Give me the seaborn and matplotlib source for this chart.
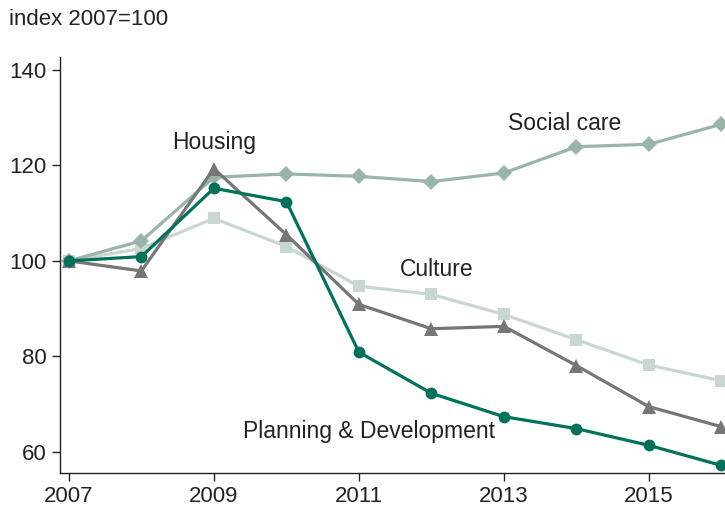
import matplotlib
matplotlib.use("Agg")
import matplotlib.pyplot as plt
import seaborn as sns
import pandas as pd

years = [2007, 2008, 2009, 2010, 2011, 2012, 2013, 2014, 2015, 2016]
social_care = [100, 104.2, 117.5, 118.2, 117.7, 116.6, 118.4, 123.9, 124.4, 128.6]
culture = [100, 102.6, 108.9, 103.0, 94.7, 93.0, 88.8, 83.5, 78.2, 74.9]
housing = [100, 97.9, 119.3, 105.5, 90.9, 85.8, 86.3, 78.1, 69.5, 65.3]
planning = [100, 100.9, 115.2, 112.4, 80.9, 72.3, 67.4, 64.9, 61.4, 57.2]

series_names = ["Culture", "Social care", "Housing", "Planning & Development"]
series_values = [culture, social_care, housing, planning]
colors = {"Culture": "#C9D7D0", "Social care": "#99B5A7",
          "Housing": "#767676", "Planning & Development": "#00715A"}
markers = {"Culture": "s", "Social care": "D", "Housing": "^",
           "Planning & Development": "o"}
msizes = {"Culture": 9, "Social care": 8, "Housing": 10, "Planning & Development": 8.5}

rows = []
for n, v in zip(series_names, series_values):
    for y, val in zip(years, v):
        rows.append({"year": y, "value": val, "series": n})
df = pd.DataFrame(rows)

sns.set_style("ticks")
plt.rcParams["font.family"] = ["Liberation Sans", "DejaVu Sans"]

fig = plt.figure(figsize=(7.25, 5.17), dpi=100)
ax = fig.add_axes([0.083, 0.085, 0.917, 0.805])

for n in series_names:
    sub = df[df["series"] == n]
    sns.lineplot(data=sub, x="year", y="value", ax=ax, color=colors[n],
                 marker=markers[n], markersize=msizes[n], markeredgewidth=0,
                 linewidth=2.3, clip_on=True)

ax.set_xlim(2006.88, 2016.05)
ax.set_ylim(55.6, 142.7)
ax.set_yticks([60, 80, 100, 120, 140])
ax.set_xticks([2007, 2009, 2011, 2013, 2015])
ax.set_xlabel("")
ax.set_ylabel("")
ax.tick_params(labelsize=16, length=6, width=1, colors="#222222", labelcolor="#222222")
for s in ["top", "right"]:
    ax.spines[s].set_visible(False)
for s in ["left", "bottom"]:
    ax.spines[s].set_color("#222222")
    ax.spines[s].set_linewidth(1)

lab_kw = dict(fontsize=16.5, color="#222222", ha="center", va="center")
ax.text(2009, 124.7, "Housing", **lab_kw)
ax.text(2013.84, 128.7, "Social care", **lab_kw)
ax.text(2012.07, 98.1, "Culture", **lab_kw)
ax.text(2011.14, 64.2, "Planning & Development", **lab_kw)

fig.text(0.012, 0.963, "index 2007=100", fontsize=16, color="#222222", ha="left", va="center")

fig.savefig("out.png", dpi=100)
